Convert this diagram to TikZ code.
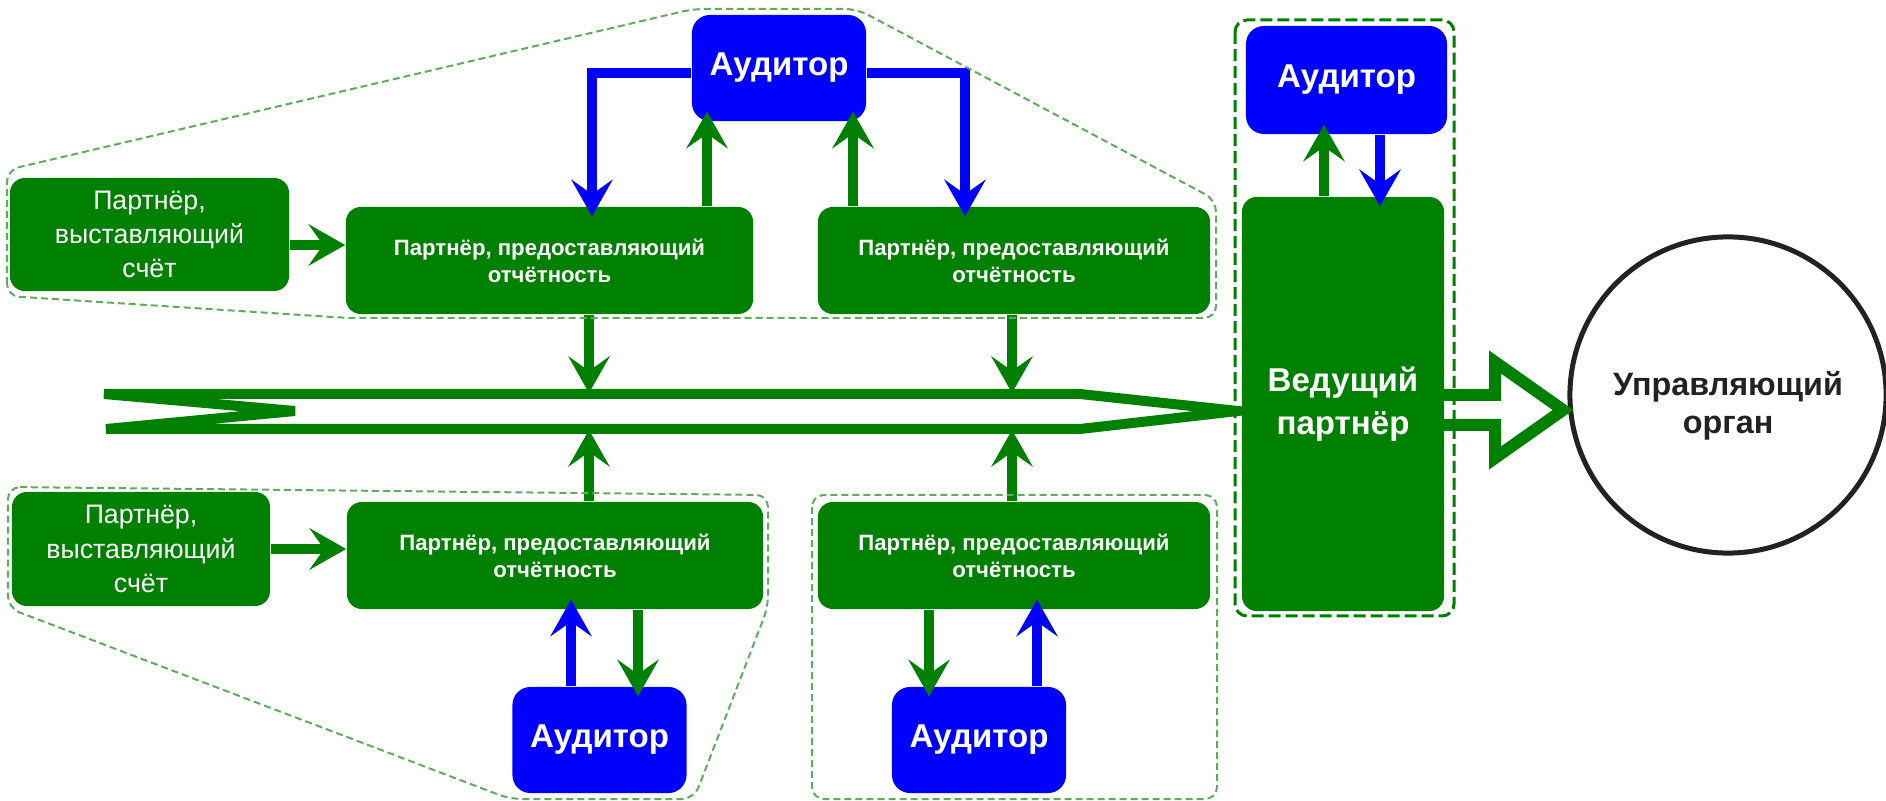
\documentclass[tikz,border=0pt]{standalone}
\usepackage{fontspec}
\setmainfont{Liberation Sans}
\usetikzlibrary{positioning}
\usetikzlibrary{arrows.meta}

\definecolor{grn}{RGB}{0,128,0}
\definecolor{blu}{RGB}{0,0,255}
\definecolor{lgrn}{RGB}{95,172,95}
\definecolor{ink}{RGB}{34,34,34}

\tikzset{
	gbox/.style={fill=grn, text=white, rounded corners=0.15cm, inner sep=0pt, align=center},
	bbox/.style={fill=blu, text=white, rounded corners=0.18cm, inner sep=0pt, align=center, minimum width=1.74cm, minimum height=1.06cm, font=\bfseries\fontsize{9.4}{12}\selectfont},
	inv/.style={gbox, font=\fontsize{7.6}{9.7}\selectfont},
	rep/.style={gbox, minimum height=1.07cm, font=\bfseries\fontsize{6.3}{7.7}\selectfont},
	garr/.style={draw=grn, line width=0.1cm, -{Stealth[length=0.37cm,width=0.42cm,inset=0.15cm,line width=0pt]}},
	barr/.style={garr, draw=blu},
	poke/.style={shorten >=-0.1cm},
	grp/.style={draw=lgrn, line width=0.02cm, dash pattern=on 0.07cm off 0.04cm, rounded corners=0.12cm},
}

\begin{document}
\begin{tikzpicture}[x=0.01cm, y=-0.01cm]

	\useasboundingbox (0,0) rectangle (1886,801);

	% flow arrow
	\coordinate (F1) at (104,394);
	\coordinate (F2) at (1080,394);
	\coordinate (F3) at (1238,411);
	\coordinate (F4) at (1080,429);
	\coordinate (F5) at (106,429);
	\coordinate (F6) at (295,411);

	\draw[draw=grn, line width=0.1cm] (F1) -- (F2) -- (F3) -- (F4) -- (F5) -- (F6) -- cycle;

	% upper row
	\node[inv, minimum width=2.79cm, minimum height=1.13cm] (I1) at (149.5,234.5) {Партнёр,\\выставляющий\\счёт};
	\node[rep, minimum width=4.07cm] (R1) at (549.5,260.5) {Партнёр, предоставляющий\\отчётность};
	\node[rep, minimum width=3.92cm] (R2) at (1014,260.5) {Партнёр, предоставляющий\\отчётность};
	\node[bbox] (A1) at (779,68) {Аудитор};

	% lower row
	\node[inv, minimum width=2.58cm, minimum height=1.14cm] (I2) at (141,549) {Партнёр,\\выставляющий\\счёт};
	\node[rep, minimum width=4.16cm] (R3) at (555,555.5) {Партнёр, предоставляющий\\отчётность};
	\node[rep, minimum width=3.92cm] (R4) at (1014,555.5) {Партнёр, предоставляющий\\отчётность};
	\node[bbox] (A3) at (599.5,740) {Аудитор};
	\node[bbox] (A4) at (979,740) {Аудитор};

	% lead partner
	\node[gbox, minimum width=2.02cm, minimum height=4.14cm, font=\bfseries\fontsize{9.4}{12.2}\selectfont] (L) at (1343,404) {Ведущий\\партнёр};
	\node[bbox, minimum width=2.01cm, minimum height=1.08cm] (A2) at (1346.5,80) {Аудитор};

	% governing body
	\node[circle, draw=ink, line width=0.05cm, minimum size=3.16cm, inner sep=0pt] (G) at (1728,395) {};
	\node[align=center, text=ink, font=\bfseries\fontsize{9.2}{10.8}\selectfont] (Gt) at (1728,406) {Управляющий\\орган};

	% hollow arrow
	\coordinate (V1) at (1444,395);
	\coordinate (V2) at (1495,395);
	\coordinate (V3) at (1495,362);
	\coordinate (V4) at (1563,410);
	\coordinate (V5) at (1495,458);
	\coordinate (V6) at (1495,425);
	\coordinate (V7) at (1444,425);

	\draw[draw=grn, line width=0.12cm] (V1) -- (V2) -- (V3) -- (V4) -- (V5) -- (V6) -- (V7);

	% columns
	\coordinate (k1) at (592,0);
	\coordinate (k2) at (707,0);
	\coordinate (k3) at (853,0);
	\coordinate (k4) at (965,0);
	\coordinate (k5) at (1324,0);
	\coordinate (k6) at (1380,0);
	\coordinate (k7) at (571,0);
	\coordinate (k8) at (638,0);
	\coordinate (k9) at (929,0);
	\coordinate (k10) at (1037,0);
	\coordinate (h0) at (0,73);
	\coordinate (h1) at (0,245);

	\coordinate (T1) at (589,393);
	\coordinate (T2) at (1012,393);
	\coordinate (B1) at (589,430);
	\coordinate (B2) at (1012,430);

	\draw[garr] (I1.east |- h1) -- (R1.west |- h1);
	\draw[garr] (I2.east) -- (R3.west |- I2.east);

	\draw[barr, poke] (A1.west |- h0) -| (R1.north -| k1);
	\draw[garr, poke] (R1.north -| k2) -- (A1.south -| k2);
	\draw[garr, poke] (R2.north -| k3) -- (A1.south -| k3);
	\draw[barr, poke] (A1.east |- h0) -| (R2.north -| k4);

	\draw[garr] (R1.south -| T1) -- (T1);
	\draw[garr] (R2.south -| T2) -- (T2);
	\draw[garr] (R3.north -| B1) -- (B1);
	\draw[garr] (R4.north -| B2) -- (B2);

	\draw[barr, poke] (A3.north -| k7) -- (R3.south -| k7);
	\draw[garr, poke] (R3.south -| k8) -- (A3.north -| k8);
	\draw[garr, poke] (R4.south -| k9) -- (A4.north -| k9);
	\draw[barr, poke] (A4.north -| k10) -- (R4.south -| k10);

	\draw[garr, poke] (L.north -| k5) -- (A2.south -| k5);
	\draw[barr, poke] (A2.south -| k6) -- (L.north -| k6);

	% groups
	\draw[grp] (7,296) -- (7,170) -- (693,9) -- (857,9) -- (1216,200) -- (1216,318) -- (348,318) -- cycle;
	\draw[grp] (8,487) -- (768,495) -- (768,607) -- (694,799) -- (510,799) -- (8,608) -- cycle;
	\draw[grp] (812,495) rectangle (1217,799);
	\draw[grp, draw=grn, line width=0.03cm, dash pattern=on 0.12cm off 0.05cm] (1235,20) rectangle (1454,616);

\end{tikzpicture}
\end{document}
